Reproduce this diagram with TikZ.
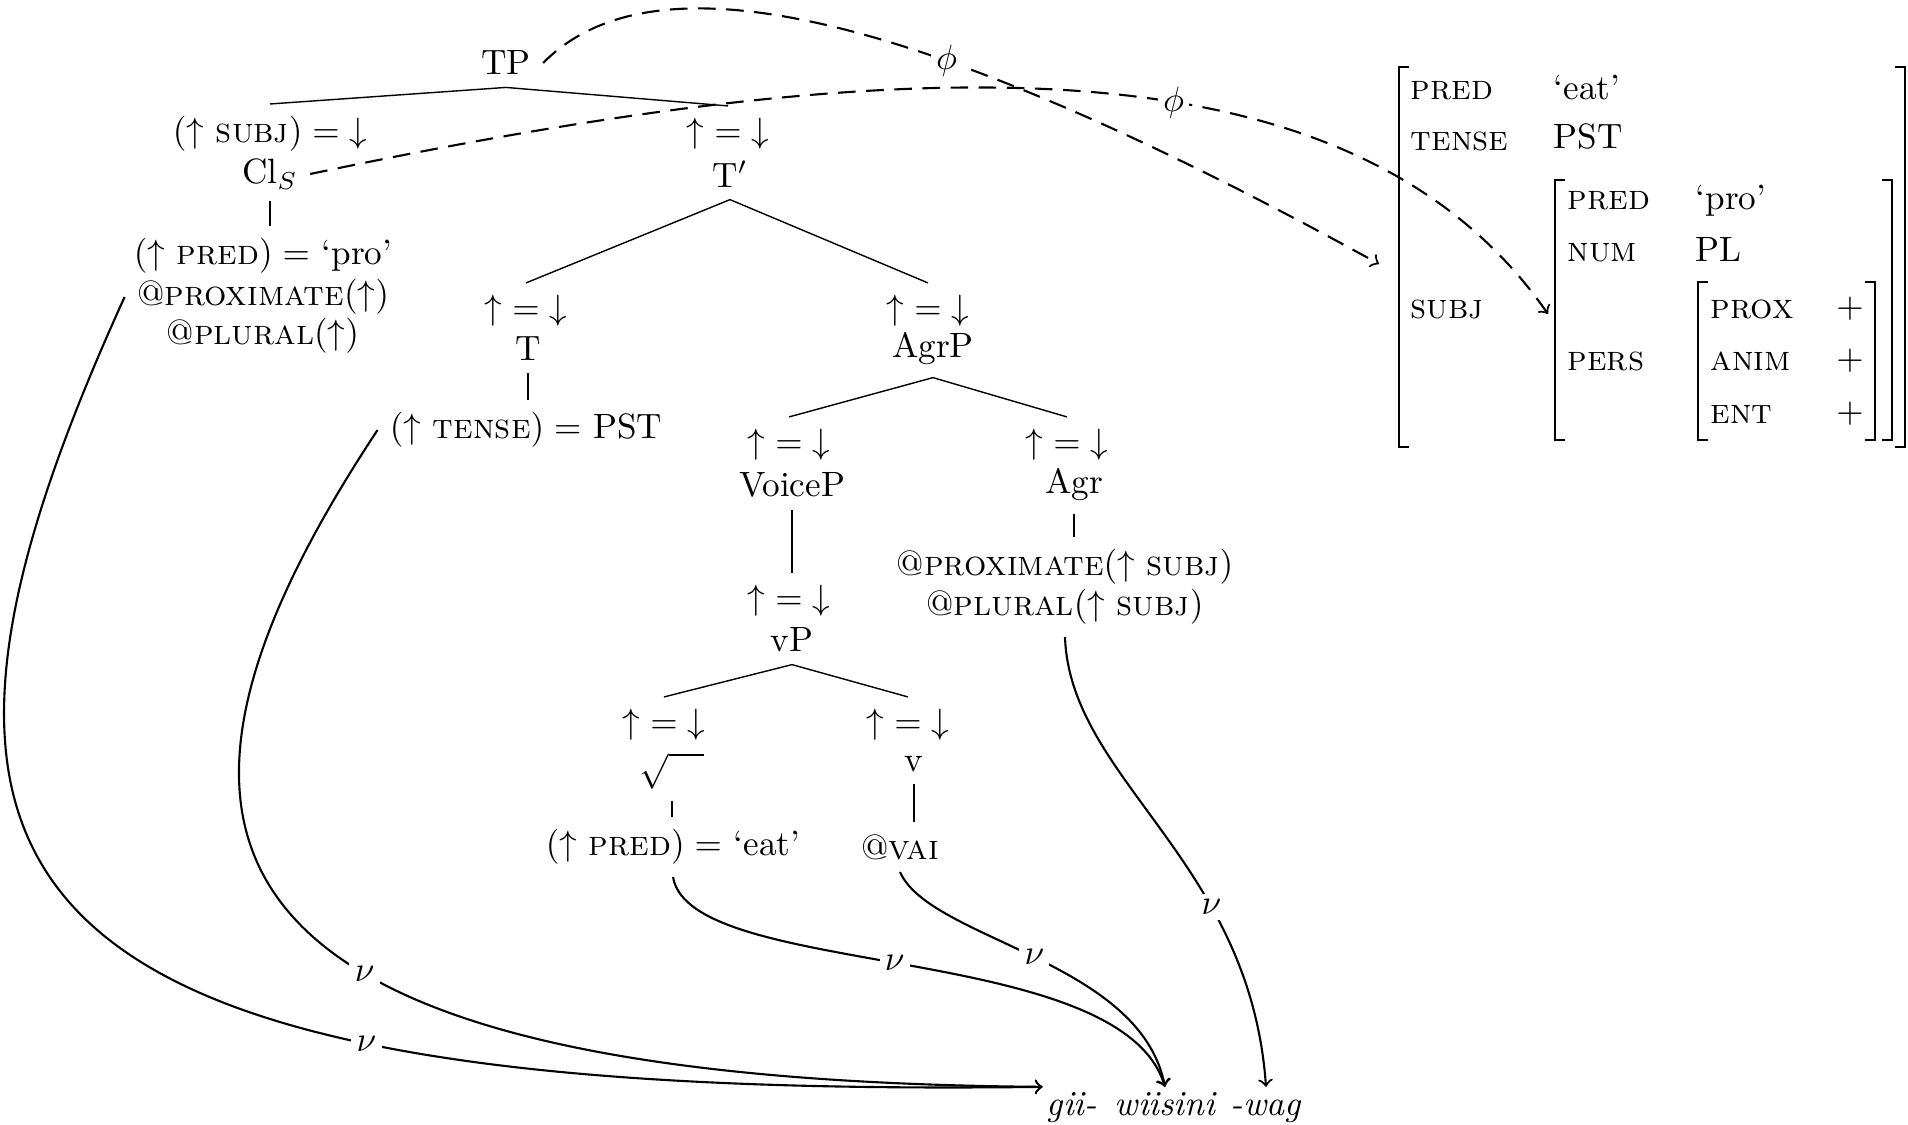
\documentclass[tikz,border=0pt]{standalone}
\usepackage{amsmath}

\newcommand{\headeq}{$\mathord{\uparrow} = \mathord{\downarrow}$}

\begin{document}
\begin{tikzpicture}[x=0.01cm, y=-0.01cm,
    branch/.style={thin},
    unary/.style={thin},
    proj/.style={semithick, ->},
    phimap/.style={semithick, dash pattern=on 5pt off 3pt, ->},
    lbl/.style={fill=white, inner sep=1.5pt},
    brk/.style={line width=.7pt},
    avm/.style={anchor=west, inner sep=0pt, text height=1.6ex, text depth=.3ex},
    word/.style={font=\itshape, inner sep=1pt, text height=1.6ex, text depth=.5ex}]
  \useasboundingbox (0,0) rectangle (1908,1125);

  % c-structure
  \node (tp) at (506,63) {TP};
  \node (clsann) at (270,134) {$(\uparrow$ \textsc{subj}$) = \mathord{\downarrow}$};
  \node (cls) at (270,174) {Cl$_S$};
  \node (clspred) at (263,256) {$(\uparrow$ \textsc{pred}$) =$ `pro'};
  \node (clsprox) at (263,297) {@\textsc{proximate}$(\uparrow)$};
  \node (clsplur) at (263,336) {@\textsc{plural}$(\uparrow)$};
  \node (tbarann) at (728,134) {\headeq};
  \node (tbar) at (730,174) {T$'$};
  \node (tann) at (526,311) {\headeq};
  \node (t) at (528,349) {T};
  \node (tense) at (526,430) {$(\uparrow$ \textsc{tense}$) =$ PST};
  \node (agrpann) at (928,311) {\headeq};
  \node (agrp) at (933,349) {AgrP};
  \node (voicepann) at (789,445) {\headeq};
  \node (voicep) at (792,485) {VoiceP};
  \node (vpann) at (789,601) {\headeq};
  \node (vp) at (792,640) {vP};
  \node (rootann) at (664,725) {\headeq};
  \node[inner sep=1pt] (root) at (672,771) {$\sqrt{\quad}$};
  \node (rootpred) at (673,847) {$(\uparrow$ \textsc{pred}$) =$ `eat'};
  \node (vann) at (908,725) {\headeq};
  \node (vhead) at (914,764) {v};
  \node (vai) at (900,847) {@\textsc{vai}};
  \node (agrann) at (1067,445) {\headeq};
  \node (agr) at (1074,485) {Agr};
  \node (agrprox) at (1065,567) {@\textsc{proximate}$(\uparrow$ \textsc{subj}$)$};
  \node (agrplur) at (1065,607) {@\textsc{plural}$(\uparrow$ \textsc{subj}$)$};

  \draw[branch] (tp.south) -- (clsann.north);
  \draw[branch] (tp.south) -- (tbarann.north);
  \draw[branch] (tbar.south) -- (tann.north);
  \draw[branch] (tbar.south) -- (agrpann.north);
  \draw[branch] (agrp.south) -- (voicepann.north);
  \draw[branch] (agrp.south) -- (agrann.north);
  \draw[branch] (vp.south) -- (rootann.north);
  \draw[branch] (vp.south) -- (vann.north);
  \draw[unary] (cls.south) -- (cls.south |- clspred.north);
  \draw[unary] (t.south) -- (t.south |- tense.north);
  \draw[unary] (voicep.south) -- (voicep.south |- vpann.north);
  \draw[unary] ([yshift=-2pt]root.south) -- (root.south |- rootpred.north);
  \draw[unary] (vhead.south) -- (vhead.south |- vai.north);
  \draw[unary] (agr.south) -- (agr.south |- agrprox.north);

  % string
  \node[word] (gii) at (1072,1107) {gii-};
  \node[word] (wiisini) at (1165,1107) {wiisini};
  \node[word] (wag) at (1266,1107) {-wag};

  % f-structure
  \foreach \l/\r/\t/\b in {1399/1905/67/447, 1555/1892/180/440, 1698/1875/282/440}
    \draw[brk] (\l+10,\t) -| (\l,\b) -- (\l+10,\b) (\r-10,\t) -| (\r,\b) -- (\r-10,\b);
  \node[avm] (fpred) at (1410,90) {\textsc{pred}};
  \node[avm] (feat) at (1553,90) {`eat'};
  \node[avm] (ftense) at (1410,141) {\textsc{tense}};
  \node[avm] (fpst) at (1553,139) {PST};
  \node[avm] (fsubj) at (1410,309) {\textsc{subj}};
  \node[avm] (spred) at (1567,200) {\textsc{pred}};
  \node[avm] (spro) at (1695,200) {`pro'};
  \node[avm] (snum) at (1567,252) {\textsc{num}};
  \node[avm] (spl) at (1695,252) {PL};
  \node[avm] (spers) at (1567,361) {\textsc{pers}};
  \foreach \a/\y in {prox/309, anim/361, ent/414} {
    \node[avm] (p\a) at (1710,\y) {\textsc{\a}};
    \node (plus\a) at (1850,\y) {$+$};
  }
  \coordinate (fouter) at (1379,264);
  \coordinate (fsubjbox) at (1548,314);

  % mappings
  \draw[phimap] (tp.east) .. controls (650,-45) and (900,0) .. node[pos=.64, lbl] (phitp) {$\phi$} (fouter);
  \draw[phimap] (cls.east) .. controls (900,50) and (1350,30) .. node[pos=.58, lbl] (phicls) {$\phi$} (fsubjbox);
  \draw[proj] (clsprox.west) .. controls (-150,900) and (0,1100) .. node[pos=.72, lbl] (nucls) {$\nu$} (gii.north west);
  \draw[proj] (tense.west) .. controls (100,850) and (200,1080) .. node[pos=.6, lbl] (nut) {$\nu$} (gii.north west);
  \draw[proj] (rootpred.south) .. controls (690,980) and (1120,940) .. node[pos=.48, lbl] (nuroot) {$\nu$} (wiisini.north);
  \draw[proj] (vai.south) .. controls (930,940) and (1140,960) .. node[pos=.5, lbl] (nuv) {$\nu$} (wiisini.north);
  \draw[proj] (agrplur.south) .. controls (1070,780) and (1250,860) .. node[pos=.68, lbl] (nuagr) {$\nu$} (wag.north);
\end{tikzpicture}
\end{document}
